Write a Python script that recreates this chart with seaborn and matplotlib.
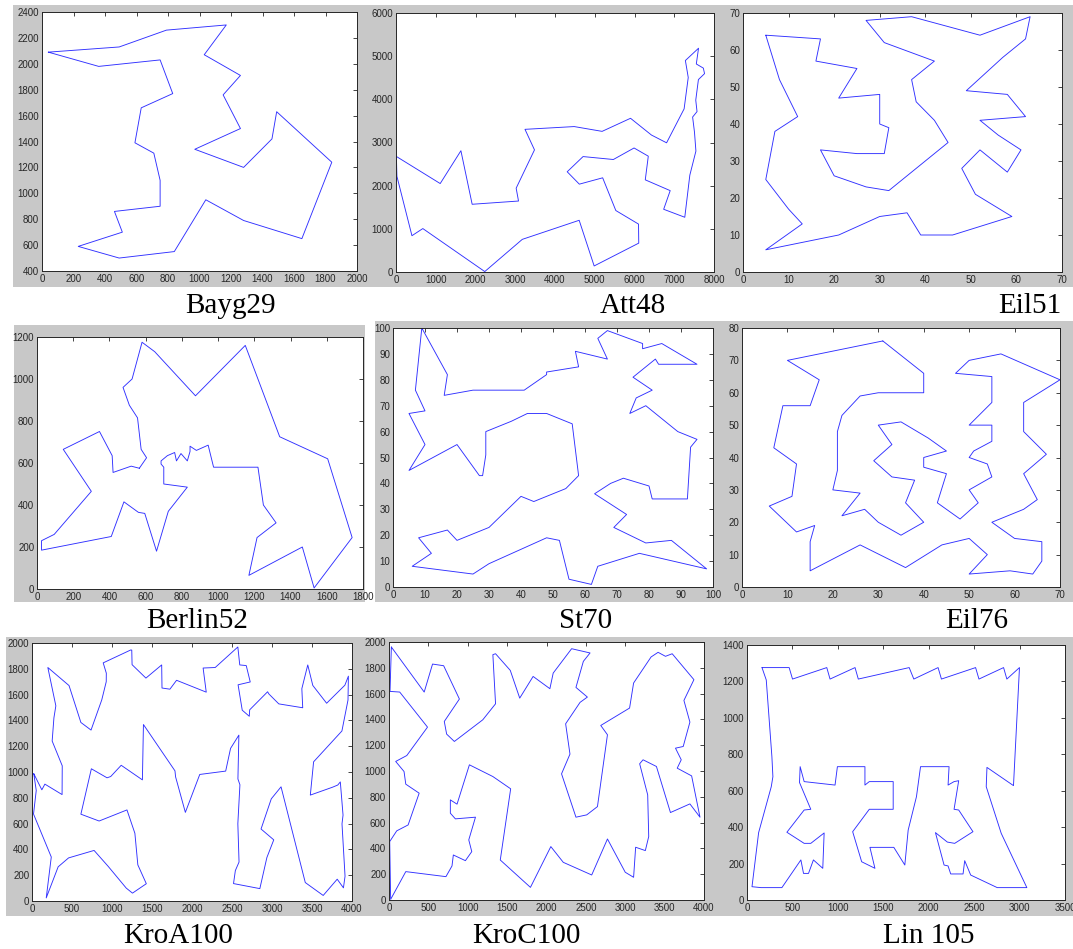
import matplotlib
matplotlib.use('Agg')
import matplotlib.pyplot as plt
from matplotlib.patches import Rectangle
import seaborn as sns
import pandas as pd

# ---------------- data (tour coordinates) ----------------
bayg29_x = [40, 490, 790, 1170, 1030, 1260, 1150, 1260, 970, 1280, 1460, 1490, 1840, 1650, 1280,
            1040, 840, 490, 230, 510, 460, 750, 750, 710, 590, 630, 830, 750, 360]
bayg29_y = [2090, 2130, 2260, 2300, 2070, 1910, 1760, 1500, 1340, 1200, 1420, 1630, 1240, 650, 790,
            950, 550, 500, 590, 700, 860, 900, 1100, 1310, 1390, 1660, 1770, 2030, 1980]

att48_x = [10, 1112, 1633, 1916, 3082, 3023, 3484, 3245, 4483, 5185, 5900, 6426, 6807, 7248, 7352, 7280,
           7611, 7555, 7732, 7762, 7608, 7541, 7573, 7462, 7509, 7545, 7392, 7265, 6734, 6898, 6271, 6347,
           5989, 5468, 4706, 4307, 4612, 5199, 5530, 6101, 6107, 4985, 4608, 3177, 2233, 675, 401, 23]
att48_y = [2676, 2049, 2809, 1569, 1644, 1942, 2829, 3305, 3369, 3258, 3561, 3173, 2993, 3779, 4506, 4899,
           5184, 4819, 4723, 4595, 4458, 3981, 3716, 3590, 3239, 2801, 2244, 1268, 1453, 1885, 2135, 2683,
           2873, 2606, 2674, 2322, 2035, 2182, 1424, 1110, 669, 140, 1198, 756, 10, 1006, 841, 2216]

eil51_x = [5, 17, 16, 25, 21, 30, 30, 32, 31, 25, 17, 20, 27, 32, 40, 45, 42, 38, 37, 42, 31, 27, 37, 43, 52,
           63, 62, 57, 49, 58, 62, 52, 56, 61, 58, 52, 48, 51, 59, 46, 39, 36, 30, 21, 5, 13, 10, 5, 7, 12, 8]
eil51_y = [64, 63, 57, 55, 47, 48, 40, 39, 32, 32, 33, 26, 23, 22, 30, 35, 41, 46, 52, 57, 62, 68, 69, 67, 64,
           69, 63, 58, 49, 48, 42, 41, 37, 33, 27, 33, 28, 21, 15, 10, 10, 16, 15, 10, 6, 13, 17, 25, 38, 42, 52]

berlin52_x = [565, 605, 575, 555, 510, 475, 525, 580, 650, 875, 1150, 1340, 1605, 1740, 1530, 1465, 1170,
              1215, 1320, 1250, 1220, 975, 945, 880, 845, 845, 835, 830, 795, 770, 760, 720, 685, 685, 700,
              700, 830, 725, 660, 595, 560, 480, 410, 25, 25, 95, 300, 145, 345, 415, 420, 520]
berlin52_y = [575, 625, 665, 815, 875, 960, 1000, 1175, 1130, 920, 1160, 725, 620, 245, 5, 200, 65,
              245, 315, 400, 580, 580, 685, 660, 680, 655, 625, 610, 645, 610, 650, 635, 610, 595, 580,
              500, 485, 370, 180, 360, 365, 415, 250, 185, 230, 260, 465, 665, 750, 635, 555, 585]

st70_x = [9, 17, 16, 25, 41, 48, 48, 58, 57, 67, 64, 67, 78, 78, 84, 95, 83, 82, 75, 81, 76, 74, 79, 89,
          95, 93, 92, 81, 80, 72, 68, 63, 73, 69, 79, 87, 98, 77, 64, 62, 55, 52, 48, 30, 25, 6, 12, 8,
          17, 20, 30, 40, 44, 54, 58, 56, 48, 42, 37, 29, 29, 28, 27, 20, 5, 10, 5, 10, 7]
st70_y = [100, 82, 74, 76, 76, 82, 83, 85, 91, 88, 96, 99, 94, 92, 94, 86, 86, 88, 81, 76, 73, 67, 70, 60,
          57, 54, 34, 34, 39, 42, 40, 36, 28, 23, 17, 18, 7, 13, 8, 1, 3, 18, 19, 9, 5, 8, 13, 19,
          22, 18, 23, 35, 33, 38, 43, 63, 67, 67, 64, 60, 51, 43, 43, 55, 45, 55, 67, 68, 76]

eil76_x = [31, 40, 40, 35, 30, 26, 22, 21, 21, 21, 20, 26, 22, 27, 30, 35, 40, 36, 38, 33, 29, 33, 30, 35,
           41, 45, 40, 40, 45, 43, 48, 52, 50, 55, 54, 50, 51, 55, 55, 50, 55, 55, 47, 50, 57, 70, 62, 62,
           67, 62, 65, 62, 55, 60, 66, 66, 64, 59, 50, 54, 50, 44, 36, 26, 15, 15, 16, 12, 6, 11, 12, 7,
           9, 15, 17, 10]
eil76_y = [76, 66, 60, 60, 60, 59, 53, 48, 45, 36, 30, 29, 22, 24, 20, 16, 20, 26, 33, 34, 39, 44, 50, 51,
           46, 42, 40, 37, 35, 26, 21, 26, 30, 34, 38, 40, 42, 45, 50, 50, 57, 65, 66, 70, 72, 64, 57, 48,
           41, 35, 27, 24, 20, 15, 14, 8, 4, 5, 4, 10, 15, 13, 6, 13, 5, 14, 19, 17, 25, 28, 38, 43,
           56, 56, 64, 70]

kroa100_x = [22, 123, 161, 376, 378, 252, 274, 298, 198, 463, 611, 738, 872, 928, 929, 890, 1234, 1247,
             1251, 1424, 1621, 1625, 1724, 1807, 2178, 2139, 2290, 2573, 2597, 2678, 2728, 2576, 2628, 2716,
             2721, 2945, 2961, 3085, 3384, 3373, 3447, 3510, 3683, 3911, 3955, 3950, 3874, 3520, 3479, 3756,
             3822, 3854, 3888, 3875, 3913, 3893, 3815, 3640, 3416, 3113, 2991, 2863, 3022, 2936, 2848, 2519,
             2542, 2588, 2573, 2599, 2574, 2586, 2482, 2421, 2097, 1917, 1795, 1787, 1393, 1380, 1115, 984,
             938, 742, 611, 839, 1187, 1286, 1323, 1429, 1256, 1178, 953, 776, 457, 327, 178, 241, 19, 53]
kroa100_y = [987, 862, 906, 825, 1048, 1240, 1420, 1513, 1810, 1670, 1384, 1325, 1559, 1700, 1766, 1846,
             1946, 1945, 1832, 1728, 1830, 1651, 1642, 1711, 1619, 1806, 1810, 1969, 1830, 1825, 1698, 1676,
             1479, 1432, 1482, 1622, 1605, 1528, 1498, 1646, 1830, 1671, 1533, 1673, 1743, 1558, 1318, 1079,
             821, 882, 899, 923, 666, 598, 192, 102, 169, 43, 143, 885, 792, 558, 474, 337, 96, 135, 236,
             302, 599, 901, 946, 1286, 1183, 1007, 981, 687, 962, 1009, 1368, 939, 1052, 965, 955, 1025, 673,
             620, 706, 525, 280, 134, 61, 100, 268, 392, 334, 265, 24, 341, 674, 857]

kroc100_x = [30, 447, 553, 694, 894, 702, 732, 830, 1191, 1353, 1319, 1353, 1540, 1660, 1830, 2043, 2085,
             2319, 2553, 2468, 2374, 2519, 2426, 2243, 2298, 2191, 2374, 2511, 2647, 2774, 2689, 3055, 3106,
             3328, 3417, 3511, 3596, 3872, 3745, 3821, 3736, 3638, 3711, 3660, 3843, 3949, 3821, 3574, 3396,
             3226, 3183, 3285, 3298, 3255, 3132, 3106, 3000, 2774, 2574, 2213, 2055, 1796, 1413, 1545, 1319,
             1021, 864, 779, 779, 843, 1098, 1013, 1051, 970, 817, 800, 723, 213, 21, 9, 98, 243, 383, 213,
             191, 85, 226, 489, 136, 13]
kroc100_y = [1961, 1612, 1829, 1816, 1558, 1384, 1286, 1229, 1397, 1521, 1902, 1909, 1780, 1565, 1733, 1638,
             1759, 1948, 1915, 1850, 1648, 1573, 1532, 1366, 1131, 978, 642, 660, 724, 1281, 1353, 1488, 1682,
             1884, 1920, 1889, 1909, 1708, 1547, 1379, 1190, 1177, 1087, 1022, 962, 642, 745, 678, 1035, 1087,
             1056, 815, 492, 383, 409, 176, 215, 473, 194, 292, 414, 98, 310, 862, 957, 1048, 743, 776, 673,
             629, 642, 466, 375, 305, 349, 264, 181, 220, 5, 453, 536, 582, 828, 898, 996, 1074, 1120, 1340,
             1612, 1617]

lin105_x = [165, 464, 501, 878, 914, 1189, 1225, 1785, 1836, 2103, 2140, 2516, 2553, 2824, 2860, 2999,
            2933, 2641, 2633, 2798, 3080, 2754, 2462, 2396, 2378, 2242, 2213, 2169, 2074, 2205, 2286, 2487,
            2330, 2279, 2330, 2279, 2213, 2224, 1910, 1865, 1774, 1737, 1616, 1353, 1408, 1262, 1163, 1346,
            1609, 1609, 1346, 1298, 1298, 995, 969, 629, 585, 578, 702, 629, 439, 629, 702, 849, 834, 731,
            677, 622, 593, 384, 154, 55, 128, 267, 285, 274, 212]
lin105_y = [1276, 1276, 1213, 1276, 1213, 1276, 1213, 1276, 1213, 1276, 1213, 1276, 1213, 1276, 1213, 1276,
            628, 728, 622, 366, 68, 68, 137, 216, 143, 143, 187, 192, 370, 318, 311, 375,
            494, 498, 655, 650, 631, 732, 732, 567, 384, 192, 289, 289, 174, 210, 375, 498,
            498, 650, 650, 631, 732, 732, 631, 650, 732, 645, 498, 494, 372, 311, 311, 368, 174, 220,
            146, 146, 220, 68, 68, 73, 370, 622, 677, 787, 1208]

names = ['Bayg29', 'Att48', 'Eil51', 'Berlin52', 'St70', 'Eil76', 'KroA100', 'KroC100', 'Lin 105']
xlims = [(0, 2000), (0, 8000), (0, 70), (0, 1800), (0, 100), (0, 70), (0, 4000), (0, 4000), (0, 3500)]
ylims = [(400, 2400), (0, 6000), (0, 70), (0, 1200), (0, 100), (0, 80), (0, 2000), (0, 2000), (0, 1400)]
xsteps = [200, 1000, 10, 200, 10, 10, 500, 500, 500]
ysteps = [200, 1000, 10, 200, 10, 10, 200, 200, 200]
tours = [(bayg29_x, bayg29_y), (att48_x, att48_y), (eil51_x, eil51_y), (berlin52_x, berlin52_y),
         (st70_x, st70_y), (eil76_x, eil76_y), (kroa100_x, kroa100_y), (kroc100_x, kroc100_y),
         (lin105_x, lin105_y)]

# ---------------- layout (pixels) ----------------
W, H = 1073, 949
axes_boxes = [(42, 12, 357, 271), (396, 13, 714, 272), (743, 13, 1062, 272),
              (37, 337, 363, 589), (393, 328, 713, 587), (742, 328, 1060, 587),
              (32, 643, 352, 901), (389, 642, 704, 900), (747, 645, 1065, 900)]
label_pos = [(230, 313), (633, 313), (1030, 313),
             (197, 628), (586, 628), (977, 628),
             (178, 943), (526, 943), (929, 943)]
gray_boxes = [(13, 5, 1073, 287), (14, 325, 365, 602), (375, 321, 1073, 602), (6, 637, 1073, 916)]

sns.set_theme(style='white')
plt.rcParams['font.family'] = ['Liberation Sans', 'DejaVu Sans']

fig = plt.figure(figsize=(W / 100, H / 100), dpi=100)
fig.patch.set_facecolor('white')

for (l, t, r, b) in gray_boxes:
    fig.add_artist(Rectangle((l / W, 1 - b / H), (r - l) / W, (b - t) / H, transform=fig.transFigure,
                             facecolor='#c8c8c8', edgecolor='none', zorder=-5))

for i, name in enumerate(names):
    l, t, r, b = axes_boxes[i]
    ax = fig.add_axes([l / W, 1 - b / H, (r - l) / W, (b - t) / H])
    ax.set_facecolor('white')
    xs, ys = tours[i]
    df = pd.DataFrame({'x': list(xs) + [xs[0]], 'y': list(ys) + [ys[0]]})
    sns.lineplot(data=df, x='x', y='y', sort=False, estimator=None, ax=ax,
                 color='#3030ff', lw=0.65)
    x0, x1 = xlims[i]
    y0, y1 = ylims[i]
    ax.set_xlim(x0, x1)
    ax.set_ylim(y0, y1)
    ax.set_xticks(range(x0, x1 + 1, xsteps[i]))
    ax.set_yticks(range(y0, y1 + 1, ysteps[i]))
    ax.set_xlabel('')
    ax.set_ylabel('')
    ax.tick_params(direction='in', length=3, width=0.6, top=True, right=True,
                   labelsize=7, pad=2, colors='#262626')
    for s in ax.spines.values():
        s.set_visible(True)
        s.set_linewidth(0.7)
        s.set_color('#262626')
    lx, ly = label_pos[i]
    fig.text(lx / W, 1 - ly / H, name, ha='center', va='baseline', fontsize=21,
             family=['Liberation Serif', 'DejaVu Serif'], color='black')

fig.savefig('out.png', dpi=100, facecolor='white')
